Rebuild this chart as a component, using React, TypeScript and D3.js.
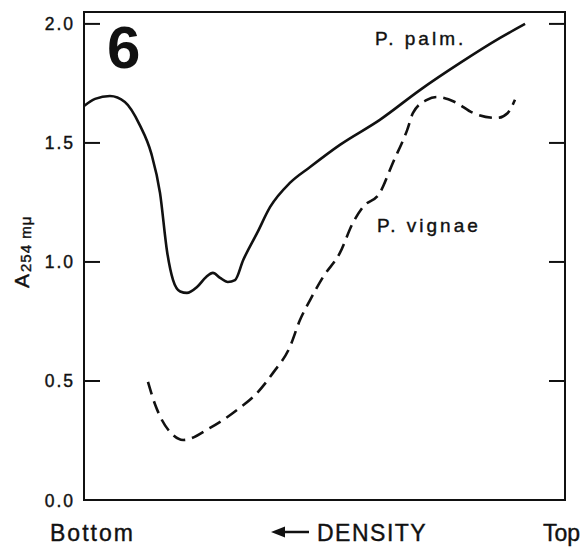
import React from "react";
import * as d3 from "d3";

// Position along gradient (0 = bottom, 100 = top) and absorbance at 254 mμ
const palmX = [0, 2.3, 5.4, 8.5, 11.6, 14.0, 15.8, 17.3, 18.5, 20.0, 21.4, 23.5, 25.4, 26.8, 28.3, 29.9, 31.4, 33.1, 36.0, 38.7, 42.8, 47.0, 53.2, 61.5, 69.9, 78.2, 86.5, 91.7];
const palmY = [1.655, 1.685, 1.697, 1.672, 1.575, 1.455, 1.29, 1.04, 0.925, 0.876, 0.87, 0.895, 0.937, 0.954, 0.933, 0.916, 0.924, 1.008, 1.122, 1.231, 1.332, 1.399, 1.492, 1.597, 1.723, 1.836, 1.941, 2.0];

const vignaeX = [13.3, 14.8, 16.2, 18.3, 20.6, 26.2, 31.8, 36.0, 39.3, 42.8, 44.9, 47.0, 49.7, 53.2, 55.9, 58.0, 61.5, 64.2, 67.2, 68.4, 71.3, 73.4, 77.1, 80.9, 85.9, 88.1, 89.6];
const vignaeY = [0.496, 0.4, 0.336, 0.277, 0.252, 0.303, 0.378, 0.45, 0.534, 0.643, 0.756, 0.84, 0.937, 1.038, 1.164, 1.231, 1.29, 1.416, 1.555, 1.626, 1.681, 1.693, 1.672, 1.626, 1.605, 1.626, 1.681];

const yTicks = [0, 0.5, 1.0, 1.5, 2.0];
const yTickLabels = ["0.0", "0.5", "1.0", "1.5", "2.0"];

const W = 584;
const H = 547;
const left = 84;
const right = 565;
const top = 12;
const bottom = 500;
const ink = "#111";
const font = "'Liberation Sans', Arial, sans-serif";

export default function App() {
  const x = d3.scaleLinear().domain([0, 100]).range([left, right]);
  const y = d3.scaleLinear().domain([0, 2.05]).range([bottom, top]);

  const solidLine = d3
    .line<[number, number]>()
    .x((d) => x(d[0]))
    .y((d) => y(d[1]))
    .curve(d3.curveMonotoneX);
  const dashLine = d3
    .line<[number, number]>()
    .x((d) => x(d[0]))
    .y((d) => y(d[1]))
    .curve(d3.curveMonotoneX);

  const palm = solidLine(palmX.map((v, i) => [v, palmY[i]] as [number, number])) || "";
  const vignae = dashLine(vignaeX.map((v, i) => [v, vignaeY[i]] as [number, number])) || "";

  const textStroke = { stroke: ink, strokeWidth: 0.4 };

  return (
    <svg
      width={W}
      height={H}
      style={{ position: "absolute", left: 0, top: 0, background: "#fff" }}
      fontFamily={font}
    >
      <rect x={0} y={0} width={W} height={H} fill="#fff" />
      {/* frame */}
      <rect x={left} y={top} width={right - left} height={bottom - top} fill="none" stroke={ink} strokeWidth={2} />
      {/* ticks */}
      {yTicks.map((t, i) => (
        <g key={i}>
          {t > 0 && (
            <>
              <line x1={left} x2={left + 16} y1={y(t)} y2={y(t)} stroke={ink} strokeWidth={2} />
              <line x1={right - 16} x2={right} y1={y(t)} y2={y(t)} stroke={ink} strokeWidth={2} />
            </>
          )}
          <text
            x={75}
            y={y(t) + 6.5}
            textAnchor="end"
            fontSize={17.5}
            letterSpacing={2}
            fill={ink}
            {...textStroke}
          >
            {yTickLabels[i]}
          </text>
        </g>
      ))}
      {/* curves */}
      <path d={palm} fill="none" stroke={ink} strokeWidth={2.6} strokeLinejoin="round" />
      <path d={vignae} fill="none" stroke={ink} strokeWidth={2.6} strokeDasharray="13 7" />
      {/* labels */}
      <text x={107} y={68} fontSize={60} fontWeight="bold" fill={ink}>6</text>
      <text x={375} y={45} fontSize={19} letterSpacing={3} fill={ink} {...textStroke}>P. palm.</text>
      <text x={377} y={232} fontSize={19} letterSpacing={3} fill={ink} {...textStroke}>P. vignae</text>
      <text x={50} y={541} fontSize={23} letterSpacing={2} fill={ink} {...textStroke}>Bottom</text>
      <text x={543} y={541} fontSize={23} fill={ink} {...textStroke}>Top</text>
      <text x={317} y={541} fontSize={23} letterSpacing={1.5} fill={ink} {...textStroke}>DENSITY</text>
      <line x1={282} x2={309} y1={532} y2={532} stroke={ink} strokeWidth={2.5} />
      <polygon points="271,532 285,526.5 285,537.5" fill={ink} />
      {/* y axis label */}
      <text transform="translate(29,288) rotate(-90)" fontSize={21} fill={ink} {...textStroke}>
        A
        <tspan fontSize={15} dy={2} dx={2} letterSpacing={1}>254 mμ</tspan>
      </text>
    </svg>
  );
}
